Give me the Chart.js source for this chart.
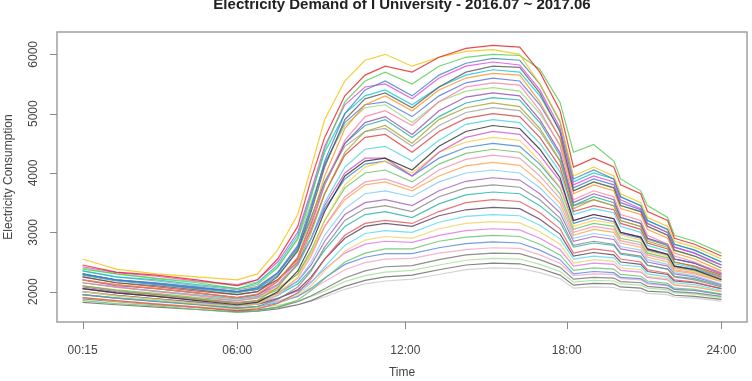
<!DOCTYPE html>
<html><head><meta charset="utf-8">
<script src="https://cdn.jsdelivr.net/npm/chart.js@4"></script>
<style>html,body{margin:0;padding:0;background:#fff;}canvas{display:block;}</style>
</head><body>
<canvas id="c" width="752" height="381"></canvas>
<script>
const TITLE = 'Electricity Demand of I University - 2016.07 ~ 2017.06';
const X_TITLE = 'Time';
const Y_TITLE = 'Electricity Consumption';
// 15-minute slot index (1 = 00:15 ... 96 = 24:00)
const TIME_INDEX = [1,6,12,18,24,27,30,33,35,37,40,43,46,50,54,58,62,66,69,72,74,77,80,81,84,85,88,89,92,96];
const X_TICK_POS = [1,24,49,73,96];
const X_TICK_LABELS = ['00:15','06:00','12:00','18:00','24:00'];
const Y_TICKS = [2000,3000,4000,5000,6000];

const s01 = [2450,2330,2280,2200,2100,2200,2550,3100,3900,4600,5300,5650,5800,5700,5950,6100,6150,6120,5700,5050,4100,4250,4100,3800,3650,3350,3200,2900,2800,2600];
const s02 = [2550,2380,2300,2250,2200,2300,2700,3300,4100,4900,5550,5900,6000,5800,5950,6050,6080,6000,5500,4880,3950,4100,3950,3650,3500,3250,3100,2850,2750,2550];
const s03 = [2380,2300,2220,2150,2050,2120,2400,2900,3600,4400,5200,5550,5700,5500,5800,5950,6000,5980,5750,5190,4350,4480,4200,3900,3700,3450,3250,2950,2850,2650];
const s04 = [2300,2200,2150,2080,2000,2060,2300,2750,3400,4200,5000,5400,5550,5300,5650,5850,5930,5900,5500,4860,3900,4050,3900,3600,3450,3200,3050,2800,2700,2500];
const s05 = [2420,2320,2260,2180,2120,2200,2500,3000,3700,4450,5150,5450,5500,5250,5600,5800,5870,5820,5400,4760,3800,3950,3850,3550,3400,3150,3000,2750,2650,2450];
const s06 = [2250,2150,2100,2030,1950,2000,2250,2700,3350,4100,4900,5250,5350,5100,5450,5700,5800,5780,5350,4690,3700,3850,3750,3450,3350,3100,2950,2700,2600,2400];
const s07 = [2350,2250,2200,2120,2050,2150,2450,2950,3650,4350,5000,5300,5400,5150,5450,5650,5740,5700,5300,4720,3850,4000,3900,3600,3450,3200,3050,2800,2700,2500];
const s08 = [2200,2120,2050,1980,1900,1960,2180,2580,3200,3950,4750,5150,5300,5050,5400,5600,5680,5650,5200,4580,3650,3800,3700,3400,3300,3050,2900,2650,2550,2350];
const s09 = [2300,2200,2130,2060,2000,2070,2320,2780,3450,4150,4850,5150,5200,4950,5300,5520,5600,5550,5150,4590,3750,3900,3800,3500,3380,3150,3000,2750,2650,2450];
const s10 = [2150,2080,2000,1930,1850,1900,2120,2520,3100,3800,4550,4950,5050,4800,5200,5450,5520,5480,5050,4450,3550,3700,3600,3300,3200,2950,2800,2600,2500,2300];
const s11 = [2400,2300,2230,2170,2100,2160,2420,2880,3500,4150,4800,5100,5150,4850,5200,5380,5440,5380,5000,4480,3700,3850,3750,3450,3350,3100,2950,2700,2600,2450];
const s12 = [2200,2100,2050,1980,1900,1950,2170,2580,3150,3800,4500,4850,4950,4650,5050,5280,5350,5300,4900,4340,3500,3650,3550,3250,3150,2900,2800,2550,2480,2300];
const s13 = [2280,2180,2120,2050,1980,2040,2270,2680,3250,3850,4500,4800,4900,4600,4950,5180,5270,5230,4850,4290,3450,3600,3500,3250,3150,2900,2780,2550,2480,2300];
const s14 = [2100,2020,1950,1880,1800,1850,2070,2480,3000,3650,4350,4700,4800,4500,4900,5100,5180,5120,4750,4210,3400,3550,3450,3200,3100,2850,2750,2500,2420,2250];
const s15 = [2350,2250,2180,2100,2030,2090,2320,2730,3250,3850,4450,4700,4750,4450,4800,5020,5100,5050,4700,4200,3450,3550,3450,3200,3100,2880,2780,2550,2480,2320];
const s16 = [2250,2150,2080,2010,1950,2000,2200,2550,3050,3650,4300,4600,4650,4350,4700,4920,5000,4950,4600,4100,3350,3450,3380,3150,3050,2820,2720,2500,2430,2280];
const s17 = [2150,2080,2010,1950,1880,1920,2100,2450,2900,3500,4100,4400,4450,4200,4550,4820,4900,4850,4500,4020,3300,3400,3330,3100,3000,2780,2680,2470,2400,2250];
const s18 = [2050,1980,1920,1850,1780,1820,2000,2350,2800,3350,3950,4200,4250,4050,4450,4700,4800,4750,4400,3920,3200,3300,3230,3000,2920,2720,2630,2430,2370,2200];
const s19 = [2200,2120,2050,1980,1900,1950,2120,2450,2900,3450,4000,4250,4250,3950,4350,4600,4700,4650,4300,3860,3200,3300,3230,3000,2920,2720,2630,2430,2370,2220];
const s20 = [2000,1930,1870,1800,1750,1790,1950,2250,2650,3200,3800,4100,4200,4000,4350,4520,4600,4550,4200,3760,3100,3200,3150,2950,2870,2680,2600,2400,2340,2180];
const s21 = [2300,2200,2140,2070,2000,2040,2200,2500,2900,3400,3900,4150,4200,3950,4250,4430,4500,4450,4150,3750,3150,3250,3180,2980,2900,2700,2620,2430,2380,2250];
const s22 = [2100,2030,1970,1900,1850,1890,2030,2300,2700,3200,3750,4000,4050,3850,4150,4330,4400,4350,4050,3650,3050,3150,3100,2900,2830,2650,2570,2400,2350,2200];
const s23 = [2050,1980,1920,1860,1800,1840,1980,2230,2600,3100,3600,3850,3900,3750,4050,4230,4300,4250,3950,3570,3000,3100,3050,2860,2790,2620,2540,2370,2320,2180];
const s24 = [2150,2070,2010,1940,1880,1920,2060,2300,2650,3100,3550,3800,3850,3700,3950,4120,4180,4130,3850,3490,2950,3050,3000,2820,2750,2580,2500,2350,2300,2170];
const s25 = [2000,1930,1870,1810,1760,1800,1930,2180,2500,2950,3400,3650,3700,3600,3850,4000,4050,4000,3750,3410,2900,2980,2930,2760,2700,2540,2460,2320,2270,2130];
const s26 = [2080,2000,1950,1880,1820,1850,1970,2180,2450,2850,3300,3500,3550,3450,3700,3860,3920,3880,3650,3330,2850,2930,2880,2720,2660,2500,2430,2300,2250,2120];
const s27 = [1950,1890,1830,1780,1720,1750,1870,2080,2350,2750,3200,3400,3450,3350,3600,3750,3800,3760,3550,3240,2780,2850,2800,2650,2600,2450,2380,2250,2200,2080];
const s28 = [2050,1980,1920,1860,1800,1830,1940,2130,2380,2700,3100,3300,3350,3250,3480,3630,3680,3650,3450,3170,2750,2820,2780,2630,2580,2440,2380,2260,2220,2100];
const s29 = [1900,1850,1790,1740,1680,1710,1800,1980,2220,2550,2950,3150,3200,3150,3350,3500,3550,3520,3330,3060,2650,2720,2680,2550,2500,2370,2310,2200,2160,2050];
const s30 = [2000,1940,1880,1820,1760,1790,1880,2030,2250,2550,2900,3100,3150,3100,3280,3380,3420,3400,3220,2970,2600,2660,2620,2500,2460,2340,2290,2180,2150,2050];
const s31 = [1950,1890,1840,1780,1720,1750,1830,1970,2150,2420,2780,2980,3030,3000,3170,3270,3300,3280,3120,2890,2550,2600,2570,2450,2420,2300,2250,2150,2120,2020];
const s32 = [1900,1840,1790,1740,1700,1720,1800,1940,2100,2350,2680,2870,2930,2900,3060,3150,3180,3160,3010,2800,2480,2540,2510,2400,2370,2260,2220,2120,2090,2000];
const s33 = [2050,1980,1920,1860,1800,1820,1890,2010,2170,2380,2650,2800,2850,2830,2950,3030,3060,3040,2900,2710,2430,2480,2460,2360,2330,2240,2200,2110,2080,2000];
const s34 = [1850,1800,1760,1700,1650,1670,1740,1860,2020,2220,2500,2650,2720,2720,2850,2920,2950,2930,2800,2620,2360,2400,2380,2290,2260,2180,2140,2060,2040,1960];
const s35 = [1950,1890,1840,1790,1730,1750,1810,1920,2060,2230,2460,2580,2640,2640,2740,2810,2840,2820,2700,2540,2300,2340,2320,2240,2220,2150,2110,2040,2020,1950];
const s36 = [2000,1940,1880,1830,1780,1790,1840,1930,2040,2170,2370,2490,2550,2560,2650,2710,2740,2730,2620,2480,2270,2300,2290,2220,2200,2130,2100,2040,2020,1960];
const s37 = [1880,1830,1780,1730,1680,1690,1740,1830,1930,2050,2230,2350,2420,2440,2540,2620,2650,2640,2540,2410,2210,2240,2230,2170,2150,2090,2060,2000,1980,1920];
const s38 = [1950,1900,1850,1790,1720,1730,1770,1840,1920,2010,2170,2270,2330,2360,2450,2530,2560,2550,2460,2340,2160,2190,2180,2130,2110,2060,2030,1980,1960,1900];
const s39 = [1820,1780,1740,1700,1660,1670,1710,1780,1850,1950,2090,2190,2250,2280,2370,2450,2480,2470,2390,2280,2110,2140,2130,2080,2060,2010,1990,1940,1920,1870];
const s40 = [1900,1850,1800,1750,1700,1700,1730,1780,1840,1910,2040,2130,2180,2210,2290,2370,2400,2390,2320,2220,2060,2080,2070,2030,2010,1970,1950,1910,1890,1840];

const SERIES = [s01,s02,s03,s04,s05,s06,s07,s08,s09,s10,s11,s12,s13,s14,s15,s16,s17,s18,s19,s20,
                s21,s22,s23,s24,s25,s26,s27,s28,s29,s30,s31,s32,s33,s34,s35,s36,s37,s38,s39,s40];

const PALETTE = ['#e41a1c','#f2c200','#4fc94a','#377eb8','#e040e0','#555555','#00c8d2','#ff8c1a',
                 '#4a6fe0','#f47ca8','#8fd86b','#8e44ad','#1aa89c','#a0a020','#9a9a9a','#d93a3a',
                 '#40d0e0','#222222','#d050c8','#f5d040','#3b7fd0','#5fbf5f','#f08cb0','#ffa040',
                 '#7ec8f0','#9b59b6','#808080','#20b0a0','#e05050','#553355','#50d8e8','#f0d060',
                 '#e070e0','#60c060','#5080e0','#f4a0c0','#707070','#9ee090','#606060','#c8c8c8'];

function hexA(h, a){const n=parseInt(h.slice(1),16);return `rgba(${n>>16},${(n>>8)&255},${n&255},${a})`;}

const datasets = SERIES.map((s,k)=>({
  data: TIME_INDEX.map((x,i)=>({x:x, y:s[i]})),
  borderColor: hexA(PALETTE[k%PALETTE.length], 0.78),
  borderWidth: 1.2,
  pointRadius: 0,
  tension: 0,
  fill: false
}));

const FONT = '"Liberation Sans", Arial, Helvetica, sans-serif';

const decor = {
  id: 'decor',
  afterDraw(chart){
    const {ctx, chartArea:a, scales:{x, y}} = chart;
    ctx.save();
    ctx.strokeStyle = '#a0a0a0'; ctx.lineWidth = 1.5;
    ctx.strokeRect(a.left, a.top, a.right-a.left, a.bottom-a.top);
    ctx.strokeStyle = '#8a8a8a'; ctx.lineWidth = 1;
    ctx.beginPath();
    X_TICK_POS.forEach(v=>{const px=Math.round(x.getPixelForValue(v))+0.5; ctx.moveTo(px,a.bottom); ctx.lineTo(px,a.bottom+7);});
    Y_TICKS.forEach(v=>{const py=Math.round(y.getPixelForValue(v))+0.5; ctx.moveTo(a.left,py); ctx.lineTo(a.left-7,py);});
    ctx.stroke();
    ctx.fillStyle = '#222';
    ctx.font = 'bold 15px ' + FONT;
    ctx.textAlign = 'center'; ctx.textBaseline = 'alphabetic';
    ctx.fillText(TITLE, (a.left+a.right)/2, 9);
    ctx.fillStyle = '#444';
    ctx.font = '12px ' + FONT;
    ctx.textBaseline = 'middle';
    X_TICK_POS.forEach((v,i)=>ctx.fillText(X_TICK_LABELS[i], x.getPixelForValue(v), 351));
    Y_TICKS.forEach(v=>{ctx.save(); ctx.translate(34, y.getPixelForValue(v)); ctx.rotate(-Math.PI/2); ctx.fillText(String(v),0,0); ctx.restore();});
    ctx.fillText(X_TITLE, (a.left+a.right)/2, 373);
    ctx.save(); ctx.translate(9, (a.top+a.bottom)/2); ctx.rotate(-Math.PI/2); ctx.fillText(Y_TITLE,0,0); ctx.restore();
    ctx.restore();
  }
};

new Chart(document.getElementById('c'), {
  type: 'line',
  data: { datasets },
  options: {
    responsive: false,
    devicePixelRatio: 1,
    animation: false,
    layout: { padding: { top: 32, right: 5, left: 0, bottom: 0 } },
    plugins: { legend: { display: false }, tooltip: { enabled: false }, title: { display: false } },
    scales: {
      x: {
        type: 'linear', min: -2.8, max: 99.8,
        afterBuildTicks: s => { s.ticks = X_TICK_POS.map(v=>({value:v})); },
        afterFit: s => { s.height = 59; },
        ticks: { display: false },
        grid: { display: false },
        border: { display: false }
      },
      y: {
        min: 1489, max: 6376,
        afterBuildTicks: s => { s.ticks = Y_TICKS.map(v=>({value:v})); },
        afterFit: s => { s.width = 57; },
        ticks: { display: false },
        grid: { display: false },
        border: { display: false }
      }
    }
  },
  plugins: [decor]
});
</script>
</body></html>
